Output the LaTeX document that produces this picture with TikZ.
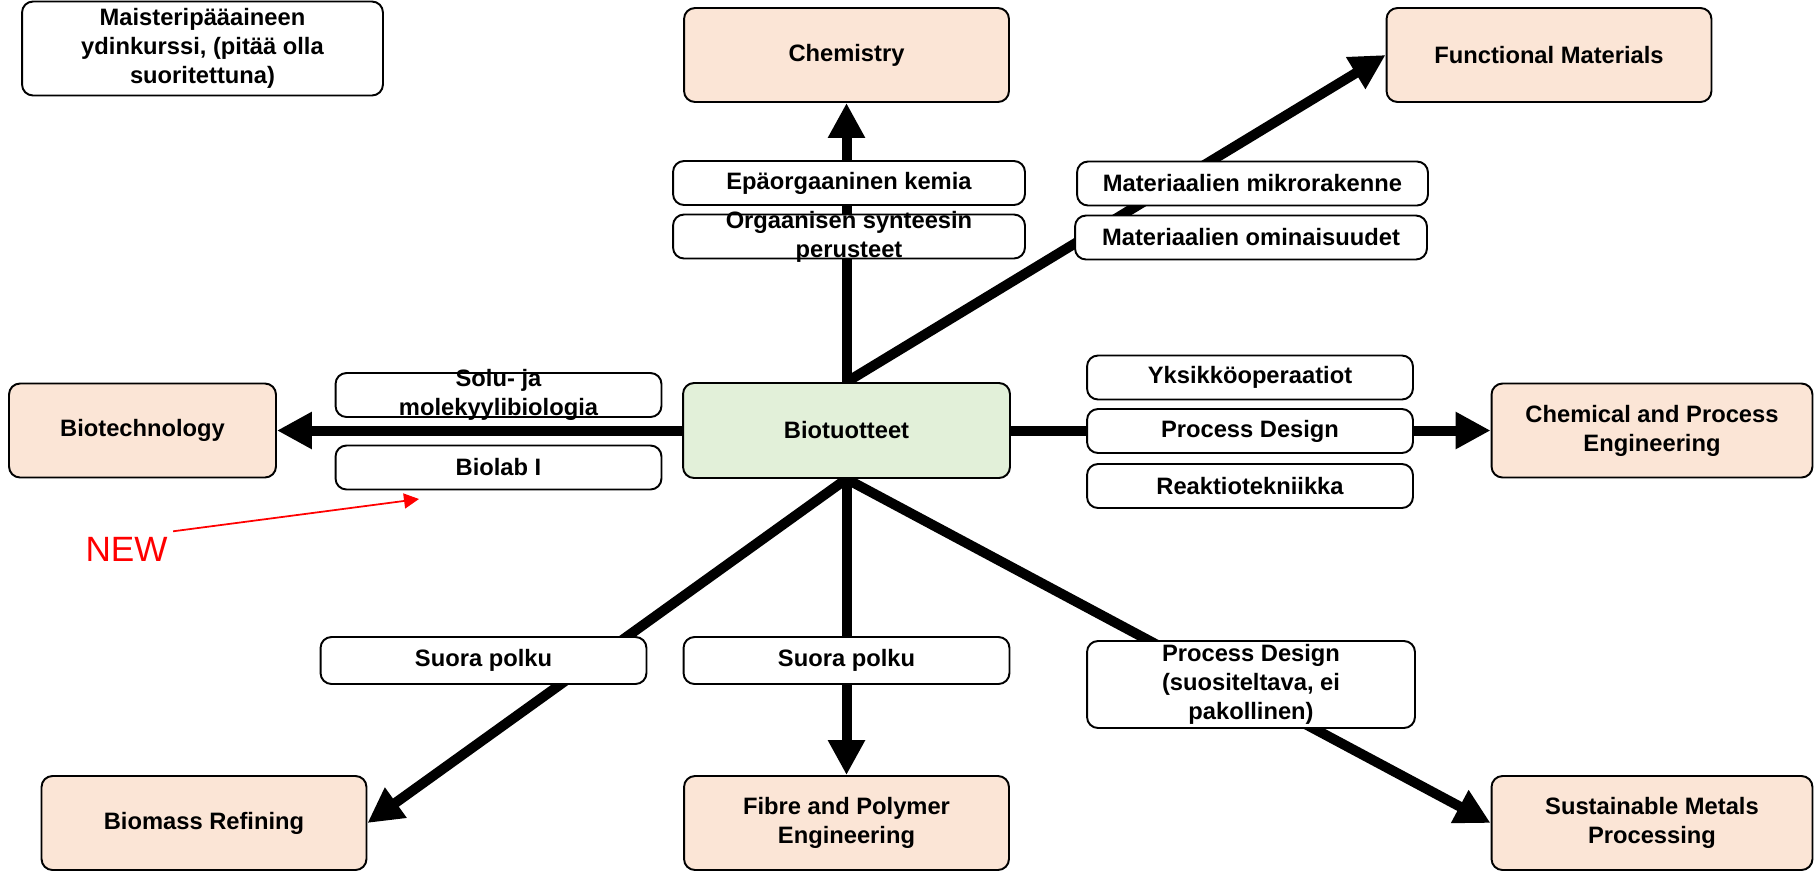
\documentclass[tikz,border=0pt]{standalone}
\usepackage{fontspec}
\setmainfont{Liberation Sans}
\usetikzlibrary{arrows.meta,backgrounds}
\definecolor{peach}{HTML}{FBE5D6}
\definecolor{leaf}{HTML}{E2F0D9}
\begin{document}
\begin{tikzpicture}[x=0.02cm, y=-0.02cm, every node/.style={font=\fontsize{13.5}{16.5}\selectfont\bfseries, align=center},
  box/.style={draw, line width=1.1pt, rounded corners=0.22cm, inner sep=0pt},
  prog/.style={box, fill=peach, minimum width=6.5cm, minimum height=1.88cm},
  course/.style={box, fill=white, minimum width=6.52cm, minimum height=0.88cm},
  flow/.style={line width=0.2cm, -{Triangle[width=0.7cm,length=0.7cm]}}]
\useasboundingbox (0,0) rectangle (1816,873);
\node[box, minimum width=7.22cm, minimum height=1.88cm] (core) at (202.5,48.5) {Maisteripääaineen\\ydinkurssi, (pitää olla\\suoritettuna)};
\node[prog] (chem) at (846.5,55) {Chemistry};
\node[prog] (func) at (1549,55) {Functional Materials};
\node[prog, minimum width=5.34cm] (biotech) at (142.5,430.5) {Biotechnology};
\node[prog, minimum width=6.42cm] (cpe) at (1652,430.5) {Chemical and Process\\Engineering};
\node[prog] (biomass) at (204,823) {Biomass Refining};
\node[prog] (fibre) at (846.5,823) {Fibre and Polymer\\Engineering};
\node[prog, minimum width=6.42cm] (sust) at (1652,823) {Sustainable Metals\\Processing};
\node[box, fill=leaf, minimum width=6.54cm, minimum height=1.9cm] (bio) at (846.5,430.5) {Biotuotteet};
\node[course, minimum width=7.04cm] (epa) at (849,183) {Epäorgaaninen kemia};
\node[course, minimum width=7.04cm, label={center:Orgaanisen synteesin\\perusteet}] (org) at (849,236.5) {};
\node[course, minimum width=7.02cm] (mikro) at (1252.5,183.5) {Materiaalien mikrorakenne};
\node[course, minimum width=7.04cm] (omin) at (1251,237.5) {Materiaalien ominaisuudet};
\node[course, label={center:Solu- ja\\molekyylibiologia}] (solu) at (498.5,395) {};
\node[course] (biolab) at (498.5,467.5) {Biolab I};
\node[course] (yksi) at (1250,377.5) {Yksikköoperaatiot};
\node[course] (pd) at (1250,431) {Process Design};
\node[course] (reak) at (1250,486) {Reaktiotekniikka};
\node[course, minimum height=0.94cm] (sp1) at (483.5,660.5) {Suora polku};
\node[course, minimum height=0.94cm] (sp2) at (846.5,660.5) {Suora polku};
\node[course, minimum width=6.56cm, minimum height=1.74cm] (pds) at (1251,684.5) {Process Design\\(suositeltava, ei\\pakollinen)};
\node[text=red, font=\fontsize{20}{24}\selectfont, inner sep=3pt] (new) at (126.5,549) {NEW};
\coordinate (newtip) at (419,499);
\draw[red, line width=1pt, -{Triangle[width=0.3cm,length=0.3cm]}] (new.north east) -- (newtip);
\begin{scope}[on background layer]
\draw[flow] (bio.north) -- (chem.south);
\draw[flow] (bio.north) -- (func.west);
\draw[flow] (bio.west) -- (biotech.east);
\draw[flow] (bio.east) -- (cpe.west);
\draw[flow] (bio.south) -- (fibre.north);
\draw[flow] (bio.south) -- (biomass.east);
\draw[flow] (bio.south) -- (sust.west);
\end{scope}
\end{tikzpicture}
\end{document}
